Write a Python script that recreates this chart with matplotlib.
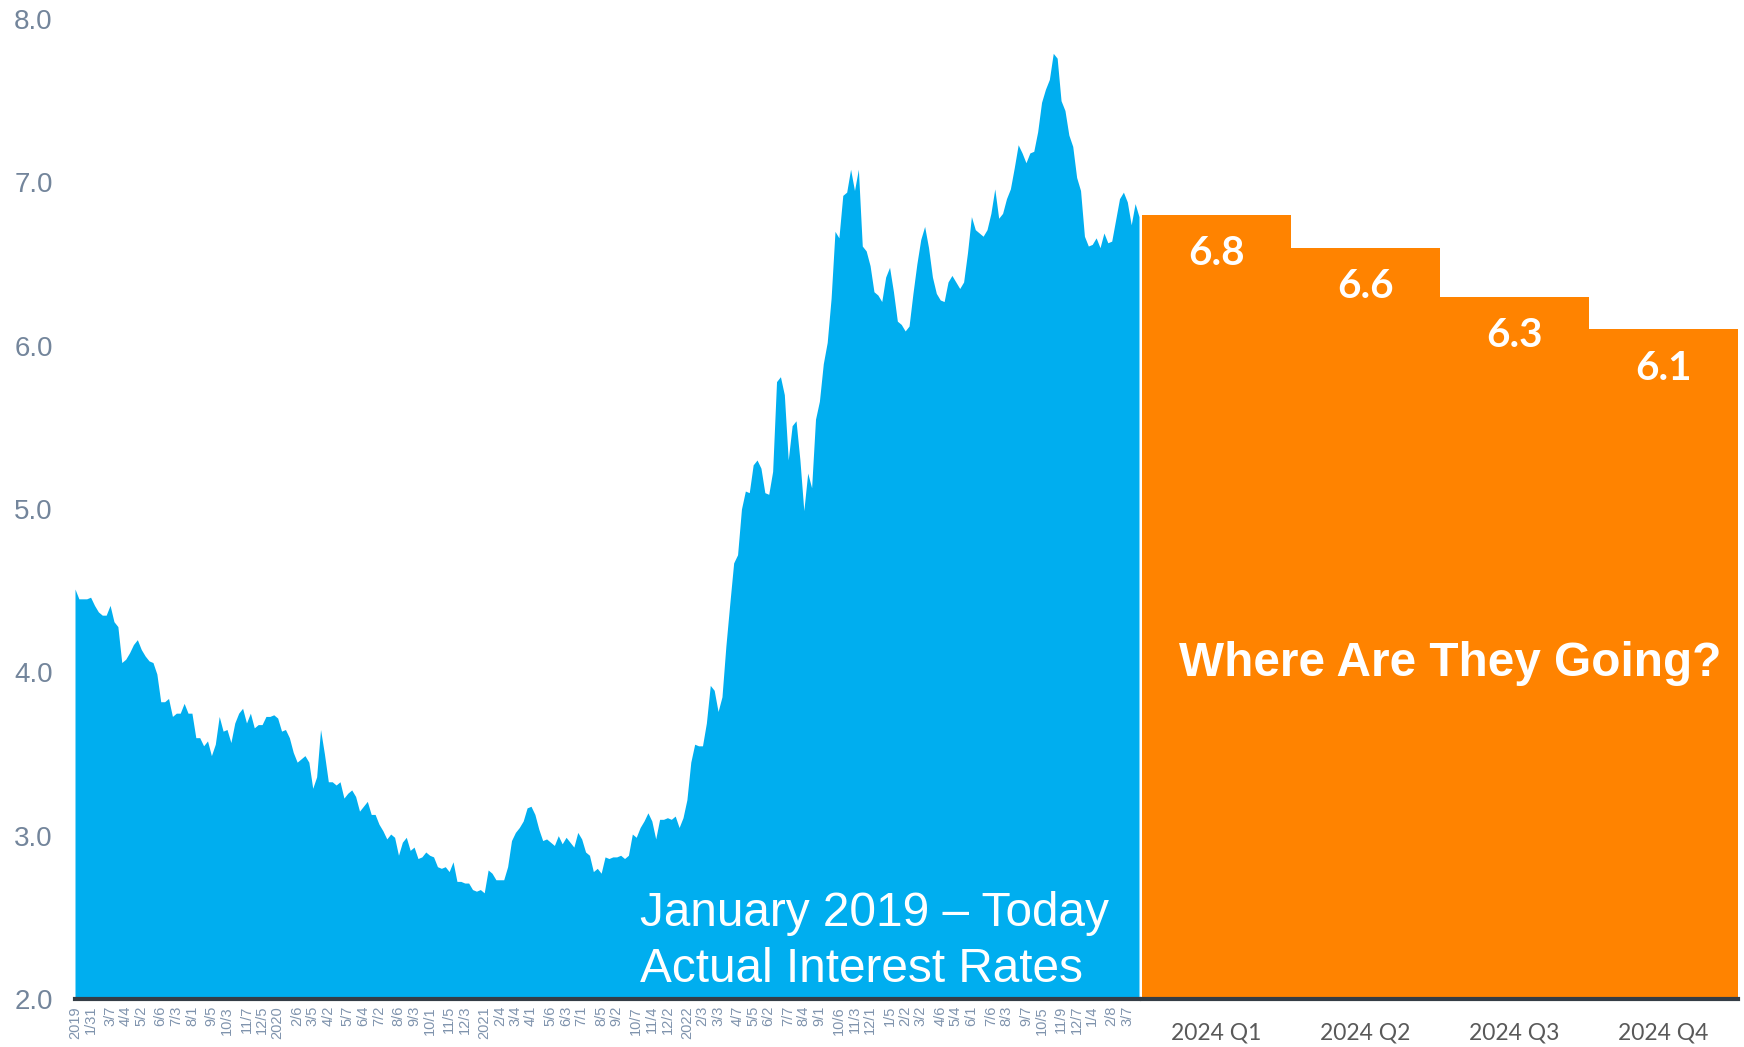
import numpy as np
import pandas as pd
import matplotlib
matplotlib.use("Agg")
import matplotlib.pyplot as plt

# Weekly 30-year fixed mortgage rate (%), first Thursday of 2019 through end of March 2024
rates_2019 = [4.51, 4.45, 4.45, 4.45, 4.46, 4.41, 4.37, 4.35, 4.35, 4.41, 4.31, 4.28, 4.06,
              4.08, 4.12, 4.17, 4.20, 4.14, 4.10, 4.07, 4.06, 3.99, 3.82, 3.82, 3.84, 3.73,
              3.75, 3.75, 3.81, 3.75, 3.75, 3.60, 3.60, 3.55, 3.58, 3.49, 3.56, 3.73, 3.64,
              3.65, 3.57, 3.69, 3.75, 3.78, 3.69, 3.75, 3.66, 3.68, 3.68, 3.73, 3.73, 3.74]
rates_2020 = [3.72, 3.64, 3.65, 3.60, 3.51, 3.45, 3.47, 3.49, 3.45, 3.29, 3.36, 3.65, 3.50,
              3.33, 3.33, 3.31, 3.33, 3.23, 3.26, 3.28, 3.24, 3.15, 3.18, 3.21, 3.13, 3.13,
              3.07, 3.03, 2.98, 3.01, 2.99, 2.88, 2.96, 2.99, 2.91, 2.93, 2.86, 2.87, 2.90,
              2.88, 2.87, 2.81, 2.80, 2.81, 2.78, 2.84, 2.72, 2.72, 2.71, 2.71, 2.67, 2.66, 2.67]
rates_2021 = [2.65, 2.79, 2.77, 2.73, 2.73, 2.73, 2.81, 2.97, 3.02, 3.05, 3.09, 3.17, 3.18,
              3.13, 3.04, 2.97, 2.98, 2.96, 2.94, 3.00, 2.95, 2.99, 2.96, 2.93, 3.02, 2.98,
              2.90, 2.88, 2.78, 2.80, 2.77, 2.87, 2.86, 2.87, 2.87, 2.88, 2.86, 2.88, 3.01,
              2.99, 3.05, 3.09, 3.14, 3.09, 2.98, 3.10, 3.10, 3.11, 3.10, 3.12, 3.05, 3.11]
rates_2022 = [3.22, 3.45, 3.56, 3.55, 3.55, 3.69, 3.92, 3.89, 3.76, 3.85, 4.16, 4.42, 4.67,
              4.72, 5.00, 5.11, 5.10, 5.27, 5.30, 5.25, 5.10, 5.09, 5.23, 5.78, 5.81, 5.70,
              5.30, 5.51, 5.54, 5.30, 4.99, 5.22, 5.13, 5.55, 5.66, 5.89, 6.02, 6.29, 6.70,
              6.66, 6.92, 6.94, 7.08, 6.95, 7.08, 6.61, 6.58, 6.49, 6.33, 6.31, 6.27, 6.42]
rates_2023 = [6.48, 6.33, 6.15, 6.13, 6.09, 6.12, 6.32, 6.50, 6.65, 6.73, 6.60, 6.42, 6.32,
              6.28, 6.27, 6.39, 6.43, 6.39, 6.35, 6.39, 6.57, 6.79, 6.71, 6.69, 6.67, 6.71,
              6.81, 6.96, 6.78, 6.81, 6.90, 6.96, 7.09, 7.23, 7.18, 7.12, 7.18, 7.19, 7.31,
              7.49, 7.57, 7.63, 7.79, 7.76, 7.50, 7.44, 7.29, 7.22, 7.03, 6.95, 6.67, 6.61]
rates_2024 = [6.62, 6.66, 6.60, 6.69, 6.63, 6.64, 6.77, 6.90, 6.94, 6.88, 6.74, 6.87, 6.79]

tick_dates = ["2019-01-03", "2019-01-31", "2019-03-07", "2019-04-04", "2019-05-02", "2019-06-06",
              "2019-07-03", "2019-08-01", "2019-09-05", "2019-10-03", "2019-11-07", "2019-12-05",
              "2020-01-02", "2020-02-06", "2020-03-05", "2020-04-02", "2020-05-07", "2020-06-04",
              "2020-07-02", "2020-08-06", "2020-09-03", "2020-10-01", "2020-11-05", "2020-12-03",
              "2021-01-07", "2021-02-04", "2021-03-04", "2021-04-01", "2021-05-06", "2021-06-03",
              "2021-07-01", "2021-08-05", "2021-09-02", "2021-10-07", "2021-11-04", "2021-12-02",
              "2022-01-06", "2022-02-03", "2022-03-03", "2022-04-07", "2022-05-05", "2022-06-02",
              "2022-07-07", "2022-08-04", "2022-09-01", "2022-10-06", "2022-11-03", "2022-12-01",
              "2023-01-05", "2023-02-02", "2023-03-02", "2023-04-06", "2023-05-04", "2023-06-01",
              "2023-07-06", "2023-08-03", "2023-09-07", "2023-10-05", "2023-11-09", "2023-12-07",
              "2024-01-04", "2024-02-08", "2024-03-07"]
tick_labels = ["2019", "1/31", "3/7", "4/4", "5/2", "6/6", "7/3", "8/1", "9/5", "10/3", "11/7", "12/5",
               "2020", "2/6", "3/5", "4/2", "5/7", "6/4", "7/2", "8/6", "9/3", "10/1", "11/5", "12/3",
               "2021", "2/4", "3/4", "4/1", "5/6", "6/3", "7/1", "8/5", "9/2", "10/7", "11/4", "12/2",
               "2022", "2/3", "3/3", "4/7", "5/5", "6/2", "7/7", "8/4", "9/1", "10/6", "11/3", "12/1",
               "1/5", "2/2", "3/2", "4/6", "5/4", "6/1", "7/6", "8/3", "9/7", "10/5", "11/9", "12/7",
               "1/4", "2/8", "3/7"]

# 2024 quarterly forecast
quarters = ["2024 Q1", "2024 Q2", "2024 Q3", "2024 Q4"]
forecast = [6.8, 6.6, 6.3, 6.1]

rates = rates_2019 + rates_2020 + rates_2021 + rates_2022 + rates_2023 + rates_2024
weeks = pd.date_range("2019-01-03", periods=len(rates), freq="7D")

BLUE = "#00AEEF"
ORANGE = "#FF8300"
BASE = "#343D46"
W, H = 1744, 1047
YMIN, YMAX = 2.0, 8.0

fig = plt.figure(figsize=(W / 100, H / 100), dpi=100)
bot, top = 1 - 999 / H, 1 - 19 / H
ax1 = fig.add_axes([75 / W, bot, (1139 - 75) / W, top - bot])
ax2 = fig.add_axes([1142 / W, bot, (1738 - 1142) / W, top - bot])

# actual rates
ax1.fill_between(weeks, rates, YMIN, color=BLUE, lw=0)
ax1.set_xlim(weeks[0], weeks[-1])
ax1.set_ylim(YMIN, YMAX)
ax1.set_yticks(np.arange(2, 9, 1.0))
ax1.set_yticklabels([f"{v:.1f}" for v in np.arange(2, 9, 1.0)],
                    fontsize=20, color="#73859B", family="Liberation Sans")
ax1.set_xticks(pd.to_datetime(tick_dates))
ax1.set_xticklabels(tick_labels, rotation=90, fontsize=10.5, color="#7F93AD",
                    family="Liberation Sans", ha="center", va="top")
ax1.tick_params(axis="y", length=0, pad=16)
ax1.tick_params(axis="x", length=0, pad=5)

# forecast bars
xq = np.arange(len(quarters))
ax2.bar(xq, forecast, width=1.0, bottom=0, color=ORANGE, lw=0)
ax2.set_xlim(-0.5, len(quarters) - 0.5)
ax2.set_ylim(YMIN, YMAX)
ax2.set_yticks([])
ax2.set_xticks(xq)
ax2.set_xticklabels(quarters, fontsize=16.5, color="#595959", family="Lato")
ax2.tick_params(axis="x", length=0, pad=17)
for x, v in zip(xq, forecast):
    ax2.annotate(f"{v:.1f}", (x, v), xytext=(0, -28), textcoords="offset points",
                 ha="center", va="center", fontsize=29, fontweight="bold",
                 color="white", family="Lato")

for ax in (ax1, ax2):
    for side in ("top", "left", "right"):
        ax.spines[side].set_visible(False)
    ax.spines["bottom"].set_color(BASE)
    ax.spines["bottom"].set_linewidth(3)
    ax.spines["bottom"].set_zorder(5)
    ax.set_facecolor("none")

for y_px, line in ((913.5, "January 2019 – Today"), (970, "Actual Interest Rates")):
    fig.text(639.5 / W, 1 - y_px / H, line, ha="left", va="center", fontsize=34.4,
             color="white", family="Liberation Sans")
ax2.text((1450 - 1142) / 596, (999 - 663) / 980, "Where Are They Going?",
         transform=ax2.transAxes, ha="center", va="center", fontsize=34.4,
         fontweight="bold", color="white", family="Liberation Sans")

fig.savefig("out.png", dpi=100, facecolor="white")
